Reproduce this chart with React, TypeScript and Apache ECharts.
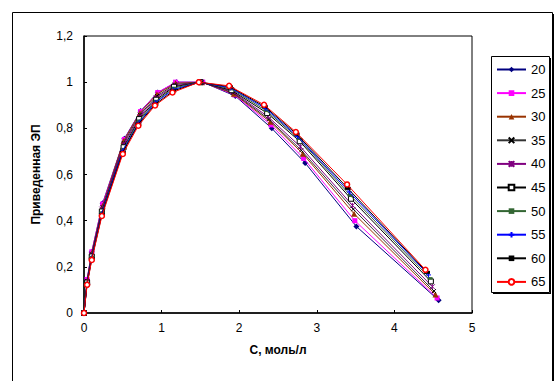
import React, { useEffect, useRef } from "react";
import * as echarts from "echarts";

const seriesNames = ["20", "25", "30", "35", "40", "45", "50", "55", "60", "65"];

const x20 = [0, 0.04, 0.1, 0.24, 0.52, 0.73, 0.95, 1.19, 1.53, 1.95, 2.42, 2.85, 3.51, 4.57];
const x25 = [0, 0.04, 0.1, 0.24, 0.52, 0.73, 0.95, 1.18, 1.53, 1.94, 2.41, 2.83, 3.49, 4.55];
const x30 = [0, 0.04, 0.1, 0.24, 0.51, 0.72, 0.94, 1.18, 1.52, 1.93, 2.4, 2.82, 3.48, 4.53];
const x35 = [0, 0.04, 0.1, 0.24, 0.51, 0.72, 0.94, 1.17, 1.51, 1.92, 2.38, 2.8, 3.47, 4.51];
const x40 = [0, 0.04, 0.1, 0.23, 0.51, 0.72, 0.93, 1.17, 1.51, 1.91, 2.37, 2.79, 3.46, 4.49];
const x45 = [0, 0.04, 0.1, 0.23, 0.51, 0.71, 0.93, 1.16, 1.5, 1.9, 2.36, 2.78, 3.44, 4.47];
const x50 = [0, 0.04, 0.1, 0.23, 0.51, 0.71, 0.93, 1.16, 1.5, 1.9, 2.35, 2.77, 3.43, 4.46];
const x55 = [0, 0.04, 0.1, 0.23, 0.5, 0.71, 0.92, 1.15, 1.49, 1.89, 2.34, 2.75, 3.42, 4.44];
const x60 = [0, 0.04, 0.1, 0.23, 0.5, 0.7, 0.92, 1.15, 1.49, 1.88, 2.33, 2.74, 3.4, 4.42];
const x65 = [0, 0.04, 0.1, 0.23, 0.5, 0.7, 0.915, 1.14, 1.48, 1.87, 2.32, 2.73, 3.39, 4.4];

const y20 = [0, 0.145, 0.265, 0.475, 0.755, 0.875, 0.955, 1.0, 1.0, 0.94, 0.8, 0.65, 0.375, 0.055];
const y25 = [0, 0.145, 0.265, 0.472, 0.752, 0.873, 0.955, 1.0, 1.0, 0.945, 0.815, 0.67, 0.4, 0.065];
const y30 = [0, 0.14, 0.26, 0.465, 0.745, 0.866, 0.948, 0.995, 1.0, 0.95, 0.828, 0.69, 0.43, 0.08];
const y35 = [0, 0.138, 0.255, 0.458, 0.737, 0.859, 0.94, 0.99, 1.0, 0.955, 0.84, 0.705, 0.45, 0.095];
const y40 = [0, 0.135, 0.25, 0.45, 0.73, 0.851, 0.932, 0.985, 1.0, 0.96, 0.851, 0.72, 0.466, 0.114];
const y45 = [0, 0.132, 0.245, 0.44, 0.718, 0.84, 0.924, 0.98, 1.0, 0.965, 0.866, 0.744, 0.495, 0.137];
const y50 = [0, 0.13, 0.242, 0.435, 0.71, 0.833, 0.918, 0.975, 1.0, 0.97, 0.876, 0.755, 0.51, 0.15];
const y55 = [0, 0.127, 0.238, 0.43, 0.703, 0.826, 0.912, 0.968, 1.0, 0.975, 0.886, 0.765, 0.524, 0.165];
const y60 = [0, 0.125, 0.234, 0.425, 0.696, 0.818, 0.905, 0.962, 1.0, 0.98, 0.894, 0.775, 0.54, 0.176];
const y65 = [0, 0.122, 0.23, 0.42, 0.689, 0.811, 0.899, 0.955, 1.0, 0.984, 0.902, 0.784, 0.557, 0.187];

const xs = [x20, x25, x30, x35, x40, x45, x50, x55, x60, x65];
const ys = [y20, y25, y30, y35, y40, y45, y50, y55, y60, y65];

const xTicks = [0, 1, 2, 3, 4, 5];

const X_PATH = "path://M0,0L10,10M10,0L0,10";
const STAR_PATH = "path://M0,0L10,10M10,0L0,10M5,0L5,10";
const PLUS_PATH = "path://M5,0L5,10M0,5L10,5";
const DASH_PATH = "path://M0,0L10,0L10,4L0,4Z";

const styles: any[] = [
  { line: "#000080", symbol: "diamond", size: 6, fill: "#000080", border: "#000080", bw: 0 },
  { line: "#FF00FF", symbol: "rect", size: 5, fill: "#FF00FF", border: "#FF00FF", bw: 0 },
  { line: "#993300", symbol: "triangle", size: 6, fill: "#993300", border: "#993300", bw: 0 },
  { line: "#333333", symbol: X_PATH, size: 4, fill: "#000000", border: "#000000", bw: 1 },
  { line: "#800080", symbol: STAR_PATH, size: 5, fill: "#800080", border: "#800080", bw: 0.9 },
  { line: "#000000", symbol: "rect", size: 5, fill: "#FFFFFF", border: "#000000", bw: 1 },
  { line: "#336633", symbol: DASH_PATH, size: [5, 2.5], fill: "#336633", border: "#336633", bw: 0 },
  { line: "#0000FF", symbol: PLUS_PATH, size: 5, fill: "#0000FF", border: "#0000FF", bw: 1 },
  { line: "#000000", symbol: DASH_PATH, size: [6, 3], fill: "#000000", border: "#000000", bw: 0 },
  { line: "#FF0000", symbol: "circle", size: 5, fill: "#FFFFFF", border: "#FF0000", bw: 1.5 },
];

const fmt = (v: number) => String(Math.round(v * 10) / 10).replace(".", ",");

export default function App() {
  const ref = useRef<HTMLDivElement>(null);
  useEffect(() => {
    if (!ref.current) return;
    const chart = echarts.init(ref.current, null, { renderer: "svg" });
    const series = seriesNames.map((name, i) => ({
      name,
      type: "line",
      data: xs[i].map((x, j) => [x, ys[i][j]]),
      symbol: styles[i].symbol,
      symbolSize: styles[i].size,
      showAllSymbol: true,
      lineStyle: { color: styles[i].line, width: 1 },
      itemStyle: {
        color: styles[i].fill,
        borderColor: styles[i].border,
        borderWidth: styles[i].bw,
      },
      emphasis: { disabled: true },
      z: 2 + i,
    }));
    chart.setOption({
      animation: false,
      backgroundColor: "#ffffff",
      textStyle: { fontFamily: "Arial, 'Liberation Sans', sans-serif" },
      grid: { left: 84, top: 36, right: 84, bottom: 68, show: true, borderColor: "#000", borderWidth: 1 },
      legend: {
        orient: "vertical",
        left: 496,
        top: 62,
        itemWidth: 29,
        itemHeight: 7,
        itemGap: 8.6,
        padding: 0,
        textStyle: { fontSize: 13, color: "#000", lineHeight: 15, fontFamily: "Arial, 'Liberation Sans', sans-serif" },
        data: seriesNames,
        selectedMode: false,
      },
      xAxis: {
        type: "value",
        min: 0,
        max: 5,
        interval: 1,
        name: "С, моль/л",
        nameLocation: "middle",
        nameGap: 31,
        nameTextStyle: { fontWeight: "bold", fontSize: 12, color: "#000" },
        axisLine: { show: true, onZero: false, lineStyle: { color: "#000", width: 1.5 } },
        axisTick: { show: true, inside: true, length: 3, lineStyle: { color: "#000" } },
        axisLabel: { fontSize: 12, color: "#000", margin: 9, formatter: (v: number) => (xTicks.includes(v) ? fmt(v) : "") },
        splitLine: { show: false },
      },
      yAxis: {
        type: "value",
        min: 0,
        max: 1.2,
        interval: 0.2,
        name: "Приведенная ЭП",
        nameLocation: "middle",
        nameGap: 42,
        nameRotate: 90,
        nameTextStyle: { fontWeight: "bold", fontSize: 12, color: "#000" },
        axisLine: { show: true, onZero: false, lineStyle: { color: "#000", width: 1.5 } },
        axisTick: { show: true, inside: true, length: 3, lineStyle: { color: "#000" } },
        axisLabel: { fontSize: 12, color: "#000", margin: 11, formatter: (v: number) => fmt(v) },
        splitLine: { show: false },
      },
      graphic: [
        { type: "rect", shape: { x: 12.5, y: 12.5, width: 540, height: 380 }, style: { fill: "none", stroke: "#000", lineWidth: 1 }, silent: true },
        { type: "line", shape: { x1: 553.5, y1: 14, x2: 553.5, y2: 381 }, style: { stroke: "#000", lineWidth: 1 }, silent: true },
        { type: "rect", shape: { x: 491.5, y: 56.5, width: 58, height: 236 }, style: { fill: "none", stroke: "#000", lineWidth: 1 }, silent: true },
        { type: "line", shape: { x1: 550.5, y1: 58, x2: 550.5, y2: 293.5 }, style: { stroke: "#000", lineWidth: 1 }, silent: true },
        { type: "line", shape: { x1: 493, y1: 293.5, x2: 551, y2: 293.5 }, style: { stroke: "#000", lineWidth: 1 }, silent: true },
      ],
      series,
    });
    return () => chart.dispose();
  }, []);
  return <div ref={ref} style={{ position: "absolute", left: 0, top: 0, width: 556, height: 381 }} />;
}
